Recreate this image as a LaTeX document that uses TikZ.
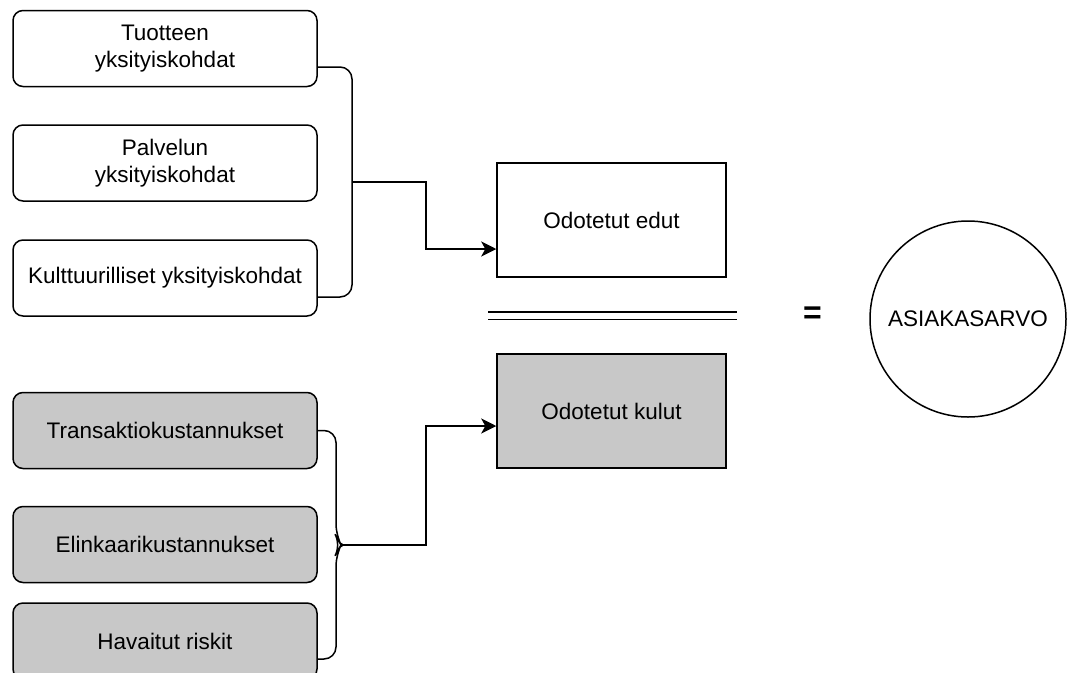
\documentclass[tikz,border=0pt]{standalone}
\usepackage{fontspec}
\setmainfont{Liberation Sans}
\usetikzlibrary{calc,arrows.meta}
\definecolor{kulugray}{RGB}{200,200,200}
\begin{document}
\begin{tikzpicture}[x=1pt,y=-1pt,
    line width=1.5pt,
    font=\fontsize{22.5}{27}\selectfont,
    detail/.style={draw,rounded corners=10pt,minimum width=304pt,
      minimum height=76pt,align=center,inner sep=0pt},
    cost/.style={detail,fill=kulugray},
    result/.style={draw,minimum width=229pt,minimum height=114pt},
    brace/.style={rounded corners=12pt,line join=round},
    arr/.style={-{Stealth[length=15pt,width=15pt,inset=4pt]}}]
  \clip (0,0) rectangle (1078,672);
  % hyodyt
  \node[detail] (tuote) at (165,48.5) {Tuotteen\\yksityiskohdat};
  \node[detail] (palvelu) at (165,163) {Palvelun\\yksityiskohdat};
  \node[detail] (kult) at (165,278) {Kulttuurilliset yksityiskohdat};
  % kulut
  \node[cost] (trans) at (165,430.5) {Transaktiokustannukset};
  \node[cost] (elin) at (165,544.5) {Elinkaarikustannukset};
  \node[cost] (riski) at (165,641) {Havaitut riskit};
  \node[result] (edut) at (611.5,220) {Odotetut edut};
  \node[result,fill=kulugray] (kulut) at (611.5,411) {Odotetut kulut};
  \draw[double distance=5.8pt] (488,315.7) -- (737,315.7);
  \node[font=\fontsize{32}{32}\selectfont\bfseries] (yht) at (812.5,315.5) {=};
  \node[draw,circle,minimum size=196pt,inner sep=0pt] (arvo) at (968,319) {ASIAKASARVO};
  % sulkeet
  \coordinate (kA) at (352,182);
  \coordinate (kB) at (341,545);
  \draw[brace] ($(tuote.east)+(0,18.5)$) -| (kA) |- ($(kult.east)+(0,19)$);
  \draw[brace] (trans.east) -| ($(kB)+(-5,-9)$) -- (kB) -- ($(kB)+(-5,9)$)
    |- ($(riski.east)+(0,18)$);
  \draw[arr] (kA) -- ++(74,0) |- ($(edut.west)+(0,29)$);
  \draw[arr] (kB) -- ++(85,0) |- ($(kulut.west)+(0,15)$);
\end{tikzpicture}
\end{document}
